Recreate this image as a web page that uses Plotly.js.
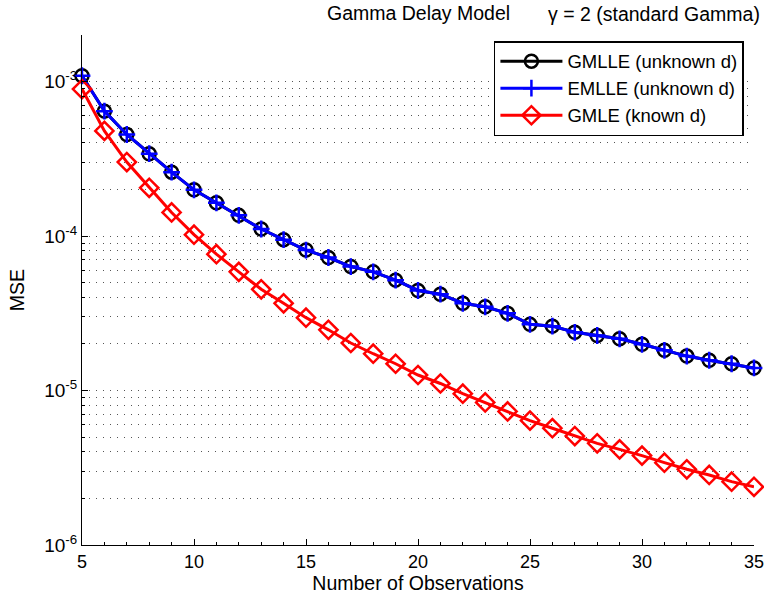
<!DOCTYPE html>
<html>
<head>
<meta charset="utf-8">
<script src="https://cdn.plot.ly/plotly-3.0.1.min.js"></script>
<style>html,body{margin:0;padding:0;background:#fff;}#chart{width:764px;height:597px;}</style>
</head>
<body>
<div id="chart"></div>
<script>
const observations = [5,6,7,8,9,10,11,12,13,14,15,16,17,18,19,20,21,22,23,24,25,26,27,28,29,30,31,32,33,34,35];
const gmlle = [1.09e-3,6.43e-4,4.54e-4,3.41e-4,2.59e-4,1.99e-4,1.64e-4,1.36e-4,1.11e-4,9.47e-5,8.11e-5,7.26e-5,6.34e-5,5.86e-5,5.18e-5,4.44e-5,4.20e-5,3.67e-5,3.48e-5,3.16e-5,2.68e-5,2.61e-5,2.38e-5,2.27e-5,2.16e-5,1.99e-5,1.82e-5,1.67e-5,1.57e-5,1.49e-5,1.40e-5];
const emlle = [1.09e-3,6.43e-4,4.54e-4,3.41e-4,2.59e-4,1.99e-4,1.64e-4,1.36e-4,1.11e-4,9.47e-5,8.11e-5,7.26e-5,6.34e-5,5.86e-5,5.18e-5,4.44e-5,4.20e-5,3.67e-5,3.48e-5,3.16e-5,2.68e-5,2.61e-5,2.38e-5,2.27e-5,2.16e-5,1.99e-5,1.82e-5,1.67e-5,1.57e-5,1.49e-5,1.40e-5];
const gmle = [8.94e-4,4.79e-4,3.01e-4,2.05e-4,1.42e-4,1.02e-4,7.63e-5,5.86e-5,4.52e-5,3.67e-5,2.96e-5,2.47e-5,2.03e-5,1.73e-5,1.49e-5,1.26e-5,1.11e-5,9.53e-6,8.37e-6,7.32e-6,6.39e-6,5.70e-6,5.07e-6,4.55e-6,4.16e-6,3.79e-6,3.41e-6,3.09e-6,2.84e-6,2.57e-6,2.38e-6];
const seriesNames = ['GMLLE (unknown d)','EMLLE (unknown d)','GMLE (known d)'];
const yTickVals = [1e-6,1e-5,1e-4,1e-3];
const yTickText = ['10<sup>-6</sup>','10<sup>-5</sup>','10<sup>-4</sup>','10<sup>-3</sup>'];
const yMinorVals = [2e-6,3e-6,4e-6,5e-6,6e-6,7e-6,8e-6,9e-6,
                    2e-5,3e-5,4e-5,5e-5,6e-5,7e-5,8e-5,9e-5,
                    2e-4,3e-4,4e-4,5e-4,6e-4,7e-4,8e-4,9e-4,
                    2e-3];
const xTickVals = [5,10,15,20,25,30,35];
const xMinorVals = [6,7,8,9,11,12,13,14,16,17,18,19,21,22,23,24,26,27,28,29,31,32,33,34];

const font = 'Liberation Sans, Arial, Helvetica, sans-serif';
const traces = [
  {x: observations, y: gmlle, name: seriesNames[0], type:'scatter', mode:'lines+markers', cliponaxis:false,
   line:{color:'#000000', width:3}, marker:{symbol:'circle-open', size:13, color:'#000000', line:{width:2.5, color:'#000000'}}},
  {x: observations, y: emlle, name: seriesNames[1], type:'scatter', mode:'lines+markers', cliponaxis:false,
   line:{color:'#0000ff', width:3}, marker:{symbol:'cross-thin-open', size:12, color:'#0000ff', line:{width:2.5, color:'#0000ff'}}},
  {x: observations, y: gmle, name: seriesNames[2], type:'scatter', mode:'lines+markers', cliponaxis:false,
   line:{color:'#ff0000', width:3}, marker:{symbol:'diamond-open', size:14, color:'#ff0000', line:{width:2.5, color:'#ff0000'}}}
];
const layout = {
  width:764, height:597,
  margin:{l:82, r:10, t:35, b:52},
  paper_bgcolor:'#ffffff', plot_bgcolor:'#ffffff',
  font:{family:font, size:18, color:'#000'},
  showlegend:true,
  legend:{x:0.985, y:0.988, xanchor:'right', yanchor:'top', bgcolor:'#ffffff', bordercolor:'#000000', borderwidth:1.5,
          font:{family:font, size:18.5, color:'#000'}, itemwidth:62, tracegroupgap:0},
  xaxis:{range:[5,35], tickmode:'array', tickvals:xTickVals, ticks:'inside', ticklen:6, tickcolor:'#000', showline:true, linecolor:'#000', linewidth:1,
         showgrid:false, zeroline:false, mirror:false, tickfont:{family:font, size:18}, ticklabeloverflow:'allow',
         minor:{tickmode:'array', tickvals:xMinorVals, ticks:'inside', ticklen:3, tickcolor:'#000', showgrid:false},
         title:{text:'Number of Observations', font:{family:font, size:19.5}, standoff:4}},
  yaxis:{type:'log', range:[-6, Math.log10(0.002)], tickmode:'array', tickvals:yTickVals, ticktext:yTickText, ticks:'inside', ticklen:6, tickcolor:'#000',
         showline:true, linecolor:'#000', linewidth:1, mirror:false, zeroline:false, ticklabeloverflow:'allow',
         showgrid:true, gridcolor:'#555', griddash:'1px,6px', gridwidth:1, tickfont:{family:font, size:19},
         minor:{tickmode:'array', tickvals:yMinorVals, showgrid:true, gridcolor:'#555', griddash:'1px,6px', gridwidth:1, ticks:'inside', ticklen:3, tickcolor:'#000'},
         title:{text:'MSE', font:{family:font, size:19.5}, standoff:14}},
  annotations:[
    {text:'Gamma Delay Model', xref:'paper', yref:'paper', x:(418-82)/672, y:(545-13)/510, xanchor:'center', yanchor:'middle', showarrow:false, font:{family:font, size:19.5}},
    {text:'γ = 2 (standard Gamma)', xref:'paper', yref:'paper', x:(654-82)/672, y:(545-14)/510, xanchor:'center', yanchor:'middle', showarrow:false, font:{family:font, size:19.5}}
  ]
};
Plotly.newPlot('chart', traces, layout, {displayModeBar:false, staticPlot:true});
</script>
</body>
</html>
